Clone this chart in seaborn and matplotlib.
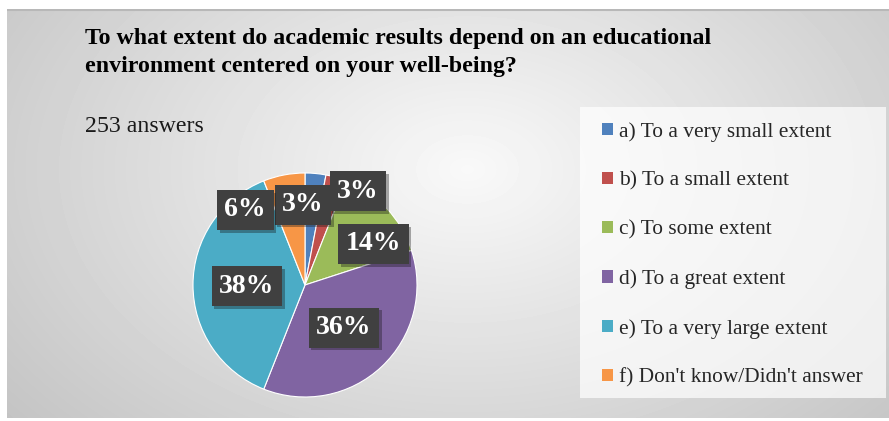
import numpy as np
import seaborn as sns
import matplotlib.pyplot as plt
import matplotlib.patheffects as pe
from matplotlib.patches import Rectangle

# data
categories = ["a) To a very small extent", "b) To a small extent", "c) To some extent",
              "d) To a great extent", "e) To a very large extent", "f) Don't know/Didn't answer"]
shares = [3, 3, 14, 36, 38, 6]
pct_labels = ["3%", "3%", "14%", "36%", "38%", "6%"]
colors = ["#4F81BD", "#C0504D", "#9BBB59", "#8064A2", "#4BACC6", "#F79646"]
title_lines = ["To what extent do academic results depend on an educational",
               "environment centered on your well-being?"]
subtitle = "253 answers"

sns.set_style("white")
plt.rcParams['font.family'] = ['Liberation Serif', 'DejaVu Serif']

W, H = 889, 421
fig = plt.figure(figsize=(W / 100, H / 100), dpi=100)
fig.patch.set_facecolor("white")


def px_axes(x0, y0, x1, y1):
    # pixel box (top-left origin) -> figure fraction
    return [x0 / W, 1 - y1 / H, (x1 - x0) / W, (y1 - y0) / H]


# gradient background panel
bg = fig.add_axes(px_axes(7, 9, 889, 418))
yy, xx = np.mgrid[0:409, 0:882]
d = np.sqrt(((xx - 460) / 600.0) ** 2 + ((yy - 160) / 400.0) ** 2)
shade = np.clip(0.975 - 0.21 * d, 0.74, 0.975)
bg.imshow(shade, cmap="gray", vmin=0, vmax=1, aspect="auto", interpolation="bilinear")
bg.axhline(0, color="#b8b8b8", lw=1.5)
bg.set_axis_off()

# title + subtitle
fig.text(85 / W, 1 - 44 / H, title_lines[0], fontsize=17.2, fontweight="bold", va="baseline", color="#000000")
fig.text(85 / W, 1 - 72 / H, title_lines[1], fontsize=17.2, fontweight="bold", va="baseline", color="#000000")
fig.text(85 / W, 1 - 132 / H, subtitle, fontsize=17.2, va="baseline", color="#1a1a1a")

# legend panel
fig.patches.append(Rectangle((580 / W, 1 - 398 / H), 306 / W, 291 / H, transform=fig.transFigure,
                             facecolor="white", alpha=0.7, edgecolor="none", zorder=1))

# pie
ax = fig.add_axes(px_axes(193, 173, 417, 397))
wedges, _ = ax.pie(shares, colors=colors, startangle=90, counterclock=False,
                   wedgeprops=dict(linewidth=0.8, edgecolor="white"))
ax.set_xlim(-1, 1)
ax.set_ylim(-1, 1)
ax.set_aspect("equal")
ax.set_axis_off()

# label boxes: placed on each wedge's middle angle, nudged like the original
nudges = [(-0.07, 0.17), (0.32, 0.31), (0.21, -0.01), (-0.03, 0.02), (0.03, -0.01), (-0.43, 0.13)]
for w, lab, (nx, ny) in zip(wedges, pct_labels, nudges):
    mid = np.deg2rad((w.theta1 + w.theta2) / 2)
    x = 0.55 * np.cos(mid) + nx
    y = 0.55 * np.sin(mid) + ny
    t = ax.text(x, y, lab, ha="center", va="center", fontsize=20, fontweight="bold", color="white",
                bbox=dict(boxstyle="square,pad=0.27", facecolor="#404040", edgecolor="none"))
    t.get_bbox_patch().set_path_effects([pe.SimplePatchShadow(offset=(2, -2), alpha=0.35), pe.Normal()])

leg = fig.legend(wedges, categories, loc="upper left", bbox_to_anchor=(602 / W, 1 - 122 / H),
                 frameon=False, fontsize=15.4, handlelength=0.5, handleheight=0.5,
                 handletextpad=0.3, labelspacing=1.39, borderaxespad=0, borderpad=0)
for h in leg.legend_handles:
    h.set_edgecolor("none")

fig.savefig("out.png", dpi=100)
